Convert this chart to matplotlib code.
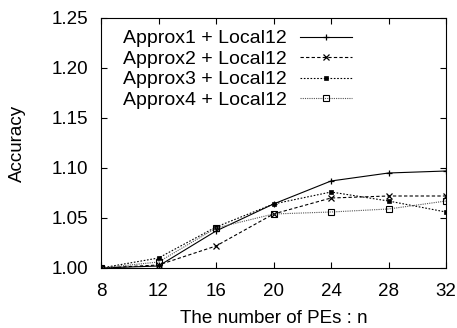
import matplotlib
matplotlib.use("Agg")
import matplotlib.pyplot as plt

plt.rcParams['font.family'] = ['Liberation Sans', 'DejaVu Sans']

pes = [8, 12, 16, 20, 24, 28, 32]
approx1 = [1.000, 1.002, 1.037, 1.064, 1.087, 1.095, 1.097]
approx2 = [1.000, 1.003, 1.022, 1.054, 1.070, 1.072, 1.072]
approx3 = [1.000, 1.010, 1.041, 1.064, 1.076, 1.067, 1.056]
approx4 = [1.000, 1.006, 1.040, 1.054, 1.056, 1.059, 1.067]
labels = ["Approx1 + Local12", "Approx2 + Local12",
          "Approx3 + Local12", "Approx4 + Local12"]

fig = plt.figure(figsize=(4.57, 3.28), dpi=100)
ax = fig.add_axes([101/457, 60/328, 345/457, 250/328])

lw = 0.8
ax.plot(pes, approx1, color="black", linestyle="-", linewidth=lw,
        marker="+", markersize=5, markeredgewidth=0.9, label=labels[0])
ax.plot(pes, approx2, color="black", linestyle=(0, (3, 2)), linewidth=lw,
        marker="x", markersize=4, markeredgewidth=0.9, label=labels[1])
ax.plot(pes, approx3, color="black", linestyle=(0, (1.5, 1.5)), linewidth=lw,
        marker="s", markersize=3.5, markeredgewidth=0.5, label=labels[2])
ax.plot(pes, approx4, color="#555555", linestyle=(0, (1, 1)), linewidth=lw,
        marker="s", markersize=4, markerfacecolor="none",
        markeredgecolor="black", markeredgewidth=0.8, label=labels[3])

ax.set_xlim(8, 32)
ax.set_ylim(1.0, 1.25)
ax.set_xticks(pes)
ax.set_yticks([1.00, 1.05, 1.10, 1.15, 1.20, 1.25])
ax.set_yticklabels(["1.00", "1.05", "1.10", "1.15", "1.20", "1.25"])
ax.tick_params(direction="in", top=True, right=True, length=4,
               labelsize=13.5)
ax.tick_params(axis="x", pad=11)
ax.tick_params(axis="y", pad=9)
for s in ax.spines.values():
    s.set_linewidth(0.8)

ax.set_xlabel("The number of PEs : n", fontsize=13.5, labelpad=7)
ax.set_ylabel("Accuracy", fontsize=13.5, labelpad=19)

ax.legend(loc="upper left", bbox_to_anchor=(0.064, 0.953), frameon=False,
          markerfirst=False, fontsize=14, handlelength=2.7,
          handletextpad=0.67, labelspacing=0.15, borderaxespad=0.0,
          borderpad=0.0)

plt.savefig("out.png", dpi=100)
